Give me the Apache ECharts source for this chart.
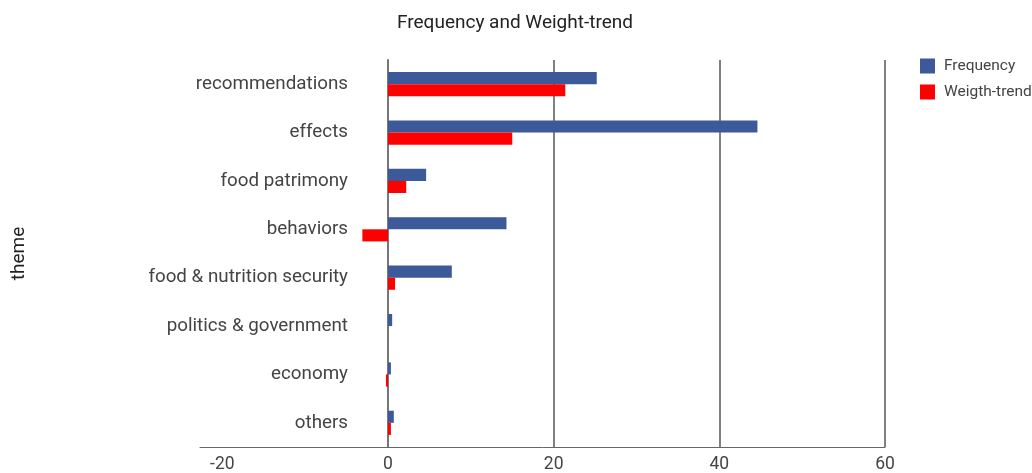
<!DOCTYPE html>
<html>
<head>
<meta charset="utf-8">
<script src="https://cdn.jsdelivr.net/npm/echarts@6/dist/echarts.min.js"></script>
<style>html,body{margin:0;padding:0;background:#fff}#c{width:1032px;height:473px}</style>
</head>
<body>
<div id="c"></div>
<script>
const categories = ['recommendations','effects','food patrimony','behaviors','food & nutrition security','politics & government','economy','others'];
const frequency = [25.2, 44.6, 4.6, 14.3, 7.7, 0.5, 0.35, 0.7];
const weightTrend = [21.4, 15.0, 2.2, -3.1, 0.85, 0, -0.25, 0.35];
const xTickLabels = [-20, 0, 20, 40, 60];
const xGridValues = [0, 20, 40, 60];

const chart = echarts.init(document.getElementById('c'));
chart.setOption({
  animation: false,
  textStyle: {fontFamily: 'Roboto'},
  title: {
    text: 'Frequency and Weight-trend', left: 510, top: 9, textAlign: 'center',
    textStyle: {fontFamily: 'Roboto', fontSize: 19, fontWeight: 'normal', color: '#222'}
  },
  legend: {
    orient: 'vertical', left: 920, top: 58, padding: 0, itemWidth: 15, itemHeight: 15, itemGap: 10,
    icon: 'rect',
    textStyle: {fontFamily: 'Roboto', fontSize: 15.5, color: '#444', padding: [0, 0, 0, 4]},
    data: ['Frequency', 'Weigth-trend']
  },
  grid: {left: 200, right: 147, top: 60, bottom: 26, containLabel: false, outerBoundsMode: 'none'},
  xAxis: {
    type: 'value', min: -22.7, max: 60,
    axisLine: {show: true, onZero: false, lineStyle: {color: '#666', width: 1}},
    axisTick: {show: false, customValues: xGridValues},
    axisLabel: {customValues: xTickLabels, fontFamily: 'Roboto', fontSize: 17.5, color: '#444', margin: 9},
    splitLine: {show: true, lineStyle: {color: '#808080', width: 2}}
  },
  yAxis: {
    type: 'category', data: categories, inverse: true,
    name: 'theme', nameLocation: 'middle', nameGap: 171, nameRotate: 90,
    nameTextStyle: {fontFamily: 'Roboto', fontSize: 19, color: '#222'},
    axisLine: {show: true, onZero: true, lineStyle: {color: '#777', width: 2}},
    axisTick: {show: false},
    axisLabel: {fontFamily: 'Roboto', fontSize: 18.8, color: '#444', margin: -148}
  },
  series: [
    {name: 'Frequency', type: 'bar', data: frequency, barCategoryGap: '50%', barGap: '0%',
     itemStyle: {color: '#3c5a99'}},
    {name: 'Weigth-trend', type: 'bar', data: weightTrend, barCategoryGap: '50%', barGap: '0%',
     itemStyle: {color: '#ff0000'}}
  ]
});
</script>
</body>
</html>
